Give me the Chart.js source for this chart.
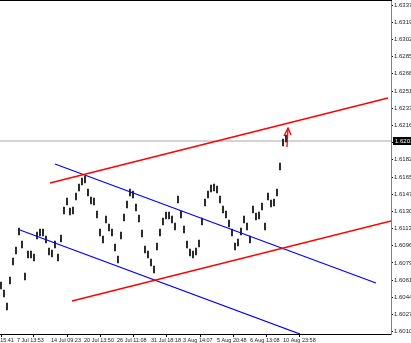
<!DOCTYPE html>
<html><head><meta charset="utf-8">
<script src="https://cdn.jsdelivr.net/npm/chart.js@4.4.0/dist/chart.umd.min.js"></script>
<style>html,body{margin:0;padding:0;background:#fff;overflow:hidden}canvas{display:block}</style>
</head><body><canvas id="c" width="411" height="343"></canvas>
<script>
// bar highs / lows (price), one bar per index
const highs=[1.6060,1.6052,1.6039,1.6065,1.6084,1.6095,1.6114,1.6101,1.6069,1.6091,
1.6091,1.6088,1.6110,1.6113,1.6113,1.6106,1.6094,1.6092,1.6101,1.6088,
1.6107,1.6135,1.6144,1.6134,1.6135,1.6149,1.6158,1.6164,1.6166,1.6153,
1.6145,1.6144,1.6131,1.6113,1.6106,1.6126,1.6118,1.6113,1.6098,1.6086,
1.6110,1.6128,1.6141,1.6153,1.6151,1.6138,1.6127,1.6112,1.6096,1.6091,
1.6083,1.6076,1.6099,1.6113,1.6124,1.6130,1.6130,1.6126,1.6119,1.6146,
1.6131,1.6116,1.6101,1.6093,1.6091,1.6094,1.6102,1.6124,1.6143,1.6151,
1.6157,1.6158,1.6156,1.6146,1.6136,1.6131,1.6122,1.6113,1.6099,1.6103,
1.6114,1.6126,1.6119,1.6106,1.6136,1.6129,1.6130,1.6139,1.6119,1.6149,
1.6142,1.6143,1.6153,1.6179,1.6203,1.6207];
const lows=[1.6053,1.6045,1.6032,1.6058,1.6077,1.6088,1.6107,1.6094,1.6062,1.6084,
1.6084,1.6081,1.6103,1.6106,1.6106,1.6099,1.6087,1.6085,1.6094,1.6081,
1.6100,1.6128,1.6137,1.6127,1.6128,1.6142,1.6151,1.6157,1.6159,1.6146,
1.6138,1.6137,1.6124,1.6106,1.6099,1.6119,1.6111,1.6106,1.6091,1.6079,
1.6103,1.6121,1.6134,1.6146,1.6144,1.6131,1.6120,1.6105,1.6089,1.6084,
1.6076,1.6069,1.6092,1.6106,1.6117,1.6123,1.6123,1.6119,1.6112,1.6139,
1.6124,1.6109,1.6094,1.6086,1.6084,1.6087,1.6095,1.6117,1.6136,1.6144,
1.6150,1.6151,1.6149,1.6139,1.6129,1.6124,1.6115,1.6106,1.6092,1.6096,
1.6107,1.6119,1.6112,1.6099,1.6129,1.6122,1.6123,1.6132,1.6112,1.6142,
1.6135,1.6136,1.6146,1.6172,1.6196,1.6200];
const priceTicks=[1.63370,1.63198,1.63026,1.62854,1.62682,1.62510,1.62338,1.62166,1.61994,1.61822,
1.61650,1.61478,1.61306,1.61134,1.60962,1.60790,1.60618,1.60446,1.60274,1.60102];
const timeTickPos=[-4.67,5.33,16.67,27.67,38.67,50,60.67,72,83,94];
const timeTickLabels=["6 Jul 15:41","7 Jul 13:53","14 Jul 09:23","20 Jul 13:50","26 Jul 11:08","31 Jul 18:18","3 Aug 14:07","5 Aug 20:48","6 Aug 13:08","10 Aug 23:58"];
const redUpper=[[16.34,1.6159],[129,1.6244]];
const redLower=[[23.67,1.6041],[130,1.6121]];
const blueUpper=[[18,1.6178],[125,1.6059]];
const blueLower=[[6.33,1.6112],[99.67,1.6008]];
const currentPrice=1.6201;
const arrowShaft=[[95.33,1.6195],[95.67,1.6214]];
const arrowHead=[[94.33,1.6206],[95.67,1.6214],[96.67,1.6207]];
const xMin=-0.33, xMax=130, yMin=1.6008, yMax=1.6341;

const pts=a=>a.map(p=>({x:p[0],y:p[1]}));
const lineDs=(a,c,o,w)=>({type:'line',data:pts(a),borderColor:c,borderWidth:w||1.3,pointRadius:0,fill:false,order:o,tension:0});

const framePlugin={id:'frame',afterDraw(ch){
  const {ctx,chartArea:a,scales:{y}}=ch;
  ctx.save();
  ctx.strokeStyle='#000';ctx.lineWidth=1;
  ctx.beginPath();ctx.moveTo(a.left,a.top-0.5);ctx.lineTo(a.right+1,a.top-0.5);ctx.stroke();
  const py=y.getPixelForValue(currentPrice);
  ctx.fillStyle='#000';ctx.fillRect(a.right+2,Math.round(py)-4,30,8);
  ctx.fillStyle='#fff';ctx.font='6px "Liberation Sans"';ctx.textBaseline='middle';ctx.textAlign='left';
  ctx.fillText(currentPrice.toFixed(5),a.right+4,py);
  ctx.restore();
}};

new Chart(document.getElementById('c'),{
  type:'bar',
  data:{datasets:[
    {type:'bar',data:highs.map((h,i)=>({x:i,y:[lows[i],h]})),backgroundColor:'#000',borderWidth:0,barThickness:1,grouped:false,order:5},
    lineDs([[xMin,currentPrice],[xMax,currentPrice]],'#a8a8a8',6,1),
    lineDs(redUpper,'#ff0000',1),
    lineDs(redLower,'#ff0000',1),
    lineDs(blueUpper,'#0000ff',1),
    lineDs(blueLower,'#0000ff',1),
    lineDs(arrowShaft,'#ff0000',0),
    lineDs(arrowHead,'#ff0000',0)
  ]},
  options:{
    responsive:false,animation:false,devicePixelRatio:1,
    layout:{padding:{top:1,left:0,right:0,bottom:0}},
    plugins:{legend:{display:false},tooltip:{enabled:false}},
    scales:{
      x:{type:'linear',min:xMin,max:xMax,offset:false,
        afterBuildTicks(s){s.ticks=timeTickPos.map(v=>({value:v}));},
        afterFit(s){s.height=9;s.paddingLeft=0;s.paddingRight=0;},
        ticks:{autoSkip:false,maxRotation:0,minRotation:0,align:'start',padding:0,color:'#222',
          font:{size:5.5,family:'Liberation Sans'},callback:(v,i)=>timeTickLabels[i]},
        grid:{drawOnChartArea:false,tickLength:3,color:'#000'},
        border:{color:'#000'}},
      y:{type:'linear',position:'right',min:yMin,max:yMax,
        afterBuildTicks(s){s.ticks=priceTicks.map(v=>({value:v}));},
        afterFit(s){s.width=20;s.paddingTop=0;s.paddingBottom=0;},
        ticks:{padding:1,color:'#222',font:{size:6,family:'Liberation Sans'},callback:v=>v.toFixed(5)},
        grid:{drawOnChartArea:false,tickLength:2,color:'#000'},
        border:{color:'#808080'}}
    }
  },
  plugins:[framePlugin]
});
</script>
</body></html>
